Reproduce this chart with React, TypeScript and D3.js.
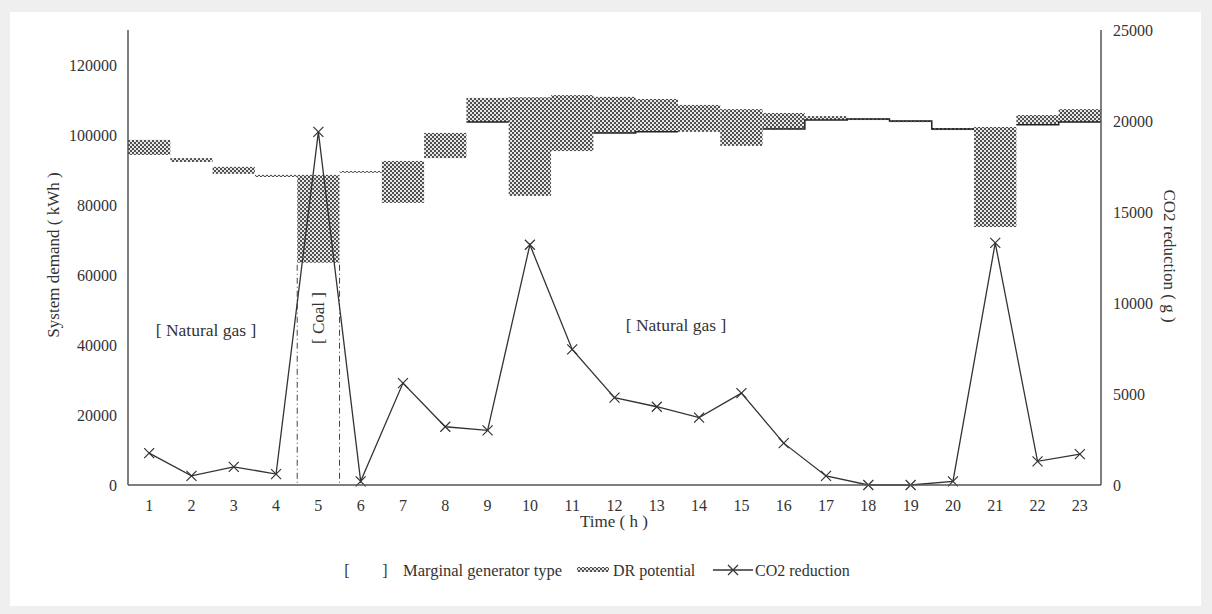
import React, { useRef, useEffect } from "react";
import * as d3 from "d3";

// hours of the day
const hours = d3.range(1, 24);
// DR potential band (kWh): upper and lower edge per hour
const drHigh = [98600, 93400, 90900, 88600, 88600, 89700, 92600, 100600, 110600, 110800, 111400, 110900, 110300, 108600, 107400, 106300, 105400, 104700, 104100, 102000, 102300, 105700, 107400];
const drLow = [94300, 92300, 88900, 88000, 63500, 89200, 80600, 93400, 103700, 82600, 95400, 100600, 100900, 100900, 96900, 101700, 104300, 104500, 103900, 101400, 73700, 102900, 103700];
// solid demand line, only where it shows
const demandLine = [null, null, null, null, null, null, null, null, 103700, null, null, 100600, 100900, null, null, 101700, 104300, 104600, 104000, 101700, null, 102900, 103700];
// CO2 reduction (g)
const co2 = [1750, 500, 1000, 600, 19400, 200, 5600, 3200, 3000, 13200, 7450, 4800, 4300, 3700, 5050, 2300, 500, 0, 0, 200, 13300, 1300, 1700];
const leftTicks = [0, 20000, 40000, 60000, 80000, 100000, 120000];
const rightTicks = [0, 5000, 10000, 15000, 20000, 25000];

const FONT = "Liberation Serif";
const INK = "#333";

export default function App() {
  const ref = useRef<SVGSVGElement>(null);

  useEffect(() => {
    const width = 1212;
    const height = 614;
    const left = 128, right = 1101, top = 30, bottom = 485;

    const svg = d3.select(ref.current);
    svg.selectAll("*").remove();
    svg.attr("width", width).attr("height", height);

    // checker pattern for DR potential
    const defs = svg.append("defs");
    const pat = defs.append("pattern")
      .attr("id", "checker")
      .attr("width", 4).attr("height", 4)
      .attr("patternUnits", "userSpaceOnUse");
    pat.append("rect").attr("width", 4).attr("height", 4).attr("fill", "#e6e6e6");
    pat.append("rect").attr("width", 2).attr("height", 2).attr("fill", "#505050");
    pat.append("rect").attr("x", 2).attr("y", 2).attr("width", 2).attr("height", 2).attr("fill", "#505050");

    // page card
    svg.append("rect").attr("width", width).attr("height", height).attr("fill", "#efefef");
    svg.append("rect").attr("x", 10).attr("y", 12).attr("width", 1191).attr("height", 594).attr("fill", "#fff");

    const x = d3.scaleBand<number>().domain(hours).range([left, right]).padding(0);
    const yL = d3.scaleLinear().domain([0, 130000]).range([bottom, top]);
    const yR = d3.scaleLinear().domain([0, 25000]).range([bottom, top]);
    const bw = x.bandwidth();

    const g = svg.append("g");

    // DR potential
    g.selectAll(".dr")
      .data(hours)
      .enter()
      .append("rect")
      .attr("x", h => x(h)!)
      .attr("y", (h, i) => yL(drHigh[i]))
      .attr("width", bw)
      .attr("height", (h, i) => Math.max(1.5, yL(drLow[i]) - yL(drHigh[i])))
      .attr("fill", "url(#checker)");

    // demand step line
    const stepPts: ([number, number] | null)[] = [];
    hours.forEach((h, i) => {
      const v = demandLine[i];
      if (v == null) { stepPts.push(null); return; }
      stepPts.push([x(h)!, yL(v)]);
      stepPts.push([x(h)! + bw, yL(v)]);
    });
    g.append("path")
      .attr("d", d3.line<any>().defined(d => d != null).x(d => d[0]).y(d => d[1])(stepPts))
      .attr("fill", "none")
      .attr("stroke", "#222")
      .attr("stroke-width", 1.5);

    // coal boundaries
    [4, 5].forEach(h => {
      g.append("line")
        .attr("x1", x(h)! + bw).attr("x2", x(h)! + bw)
        .attr("y1", yL(drLow[4]) + 2).attr("y2", bottom)
        .attr("stroke", "#444")
        .attr("stroke-width", 1)
        .attr("stroke-dasharray", "6,3,1,3");
    });

    // CO2 reduction line
    const cx = (h: number) => x(h)! + bw / 2;
    g.append("path")
      .attr("d", d3.line<number>().x(h => cx(h)).y((h, i) => yR(co2[i]))(hours))
      .attr("fill", "none")
      .attr("stroke", INK)
      .attr("stroke-width", 1.3);

    const s = 5;
    g.selectAll(".mark")
      .data(hours)
      .enter()
      .append("path")
      .attr("d", (h, i) => {
        const px = cx(h), py = yR(co2[i]);
        return `M${px - s},${py - s}L${px + s},${py + s}M${px - s},${py + s}L${px + s},${py - s}`;
      })
      .attr("stroke", INK)
      .attr("stroke-width", 1.2);

    // axes lines
    const axisStroke = "#555";
    svg.append("line").attr("x1", left).attr("x2", left).attr("y1", top).attr("y2", bottom)
      .attr("stroke", axisStroke).attr("stroke-width", 1.5);
    svg.append("line").attr("x1", right).attr("x2", right).attr("y1", top).attr("y2", bottom)
      .attr("stroke", axisStroke).attr("stroke-width", 1.5);
    svg.append("line").attr("x1", left).attr("x2", right).attr("y1", bottom).attr("y2", bottom)
      .attr("stroke", axisStroke).attr("stroke-width", 1.5);

    // tick labels
    const ticks = svg.append("g")
      .attr("font-family", FONT)
      .attr("font-size", 16)
      .attr("fill", INK);

    ticks.append("g")
      .selectAll("text")
      .data(leftTicks)
      .enter()
      .append("text")
      .attr("x", 117)
      .attr("y", d => yL(d))
      .attr("dy", "0.35em")
      .attr("text-anchor", "end")
      .text(d => d);

    ticks.append("g")
      .selectAll("text")
      .data(rightTicks)
      .enter()
      .append("text")
      .attr("x", 1113)
      .attr("y", d => yR(d))
      .attr("dy", "0.35em")
      .text(d => d);

    ticks.append("g")
      .selectAll("text")
      .data(hours)
      .enter()
      .append("text")
      .attr("x", h => cx(h))
      .attr("y", 505)
      .attr("dy", "0.35em")
      .attr("text-anchor", "middle")
      .text(d => d);

    const label = (t: string, px: number, py: number, size: number, rot = 0, anchor = "middle") =>
      svg.append("text")
        .attr("transform", `translate(${px},${py}) rotate(${rot})`)
        .attr("text-anchor", anchor)
        .attr("dy", "0.35em")
        .attr("font-family", FONT)
        .attr("font-size", size)
        .attr("fill", INK)
        .text(t);

    // axis titles
    label("System demand ( kWh )", 53, 255, 17, -90);
    label("CO2 reduction ( g )", 1170, 256, 17, 90);
    label("Time ( h )", 614, 521, 17);

    // annotations
    label("[ Natural gas ]", 206, 330, 17.5);
    label("[ Natural gas ]", 676, 325, 17.5);
    label("[ Coal ]", cx(5), 318, 17, -90);

    // legend
    const ly = 570;
    label("[", 347, ly, 16);
    label("]", 385, ly, 16);
    label("Marginal generator type", 403, ly, 16.5, 0, "start");
    svg.append("rect").attr("x", 577).attr("y", ly - 3).attr("width", 32).attr("height", 5).attr("fill", "url(#checker)");
    label("DR potential", 613, ly, 16, 0, "start");
    svg.append("line").attr("x1", 713).attr("x2", 753).attr("y1", ly).attr("y2", ly)
      .attr("stroke", INK).attr("stroke-width", 1.3);
    svg.append("path")
      .attr("d", `M${733 - 5},${ly - 5}L${733 + 5},${ly + 5}M${733 - 5},${ly + 5}L${733 + 5},${ly - 5}`)
      .attr("stroke", INK).attr("stroke-width", 1.2);
    label("CO2 reduction", 755, ly, 16, 0, "start");
  }, []);

  return (
    <div style={{ position: "absolute", left: 0, top: 0 }}>
      <svg ref={ref}></svg>
    </div>
  );
}
